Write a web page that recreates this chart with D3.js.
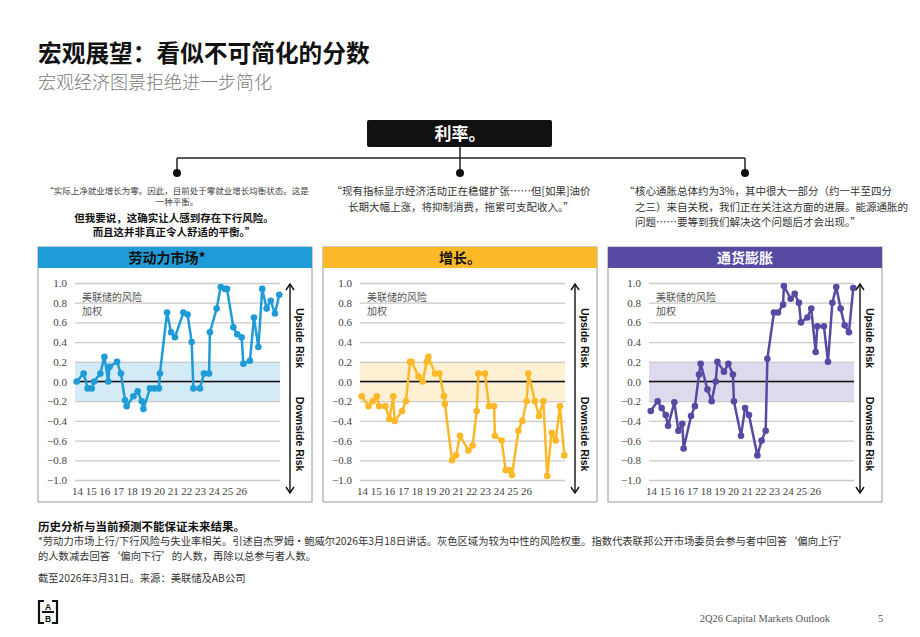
<!DOCTYPE html>
<html lang="zh">
<head>
<meta charset="UTF-8">
<title>宏观展望：看似不可简化的分数</title>
<script src="https://cdn.jsdelivr.net/npm/d3@7"></script>
<style>
  body { margin: 0; background: #fff; }
  svg text { font-family: "Noto Sans CJK SC", "Noto Sans", sans-serif; }
</style>
</head>
<body>
<script>
// 时间位置（自2014年起的年数，按图读出）
var periods = [0.00, 0.41, 0.65, 0.89, 1.03, 1.40, 1.64, 1.87, 1.95, 2.39, 2.62, 2.86, 2.96, 3.36, 3.61, 3.85,
    3.95, 4.34, 4.60, 4.87, 4.93, 5.35, 5.59, 5.82, 6.32, 6.57, 6.81, 6.91, 7.30, 7.54, 7.84, 7.89,
    8.29, 8.53, 8.78, 8.90, 9.28, 9.51, 9.77, 9.87, 10.26, 10.50, 10.76, 10.99, 11.25, 11.49, 11.74, 12.00];

// 劳动力市场
var laborRisk = [0.00, 0.08, -0.07, -0.07, 0.00, 0.08, 0.25, 0.00, 0.15, 0.20, 0.08, -0.19, -0.25, -0.15, -0.10, -0.20,
    -0.28, -0.07, -0.07, -0.07, 0.08, 0.70, 0.50, 0.45, 0.70, 0.68, 0.40, -0.07, -0.07, 0.08, 0.08, 0.50,
    0.74, 0.96, 0.94, 0.94, 0.55, 0.48, 0.45, 0.18, 0.21, 0.65, 0.35, 0.94, 0.74, 0.82, 0.69, 0.88];
// 增长
var growthRisk = [-0.15, -0.25, -0.20, -0.15, -0.25, -0.25, -0.38, -0.15, -0.40, -0.30, -0.20, 0.20, 0.20, 0.05, 0.00, 0.20,
    0.25, 0.08, 0.08, -0.15, -0.23, -0.80, -0.75, -0.55, -0.70, -0.65, -0.30, 0.08, 0.08, -0.25, -0.25, -0.55,
    -0.60, -0.90, -0.90, -0.95, -0.50, -0.40, -0.20, 0.08, -0.20, -0.35, -0.20, -0.96, -0.52, -0.60, -0.25, -0.75];
// 通货膨胀
var inflationRisk = [-0.30, -0.20, -0.27, -0.34, -0.45, -0.21, -0.50, -0.43, -0.68, -0.35, -0.25, 0.07, 0.18, -0.08, -0.20, 0.00,
    0.20, 0.10, 0.18, 0.07, -0.20, -0.55, -0.27, -0.34, -0.75, -0.60, -0.50, 0.23, 0.70, 0.70, 0.78, 0.97,
    0.84, 0.89, 0.80, 0.60, 0.65, 0.74, 0.30, 0.56, 0.56, 0.20, 0.80, 0.96, 0.74, 0.57, 0.50, 0.95];

var yearLabels = ['14', '15', '16', '17', '18', '19', '20', '21', '22', '23', '24', '25', '26'];
var yTicks = [1.0, 0.8, 0.6, 0.4, 0.2, 0.0, -0.2, -0.4, -0.6, -0.8, -1.0];
var panelTitles = ['劳动力市场*', '增长。', '通货膨胀'];

var quoteLeftSmall = ['“实际上净就业增长为零。因此，目前处于零就业增长均衡状态。这是', '一种平衡。'];
var quoteLeftBold = ['但我要说，这确实让人感到存在下行风险。', '而且这并非真正令人舒适的平衡。”'];
var quoteMid = ['“现有指标显示经济活动正在稳健扩张……但[如果]油价', '长期大幅上涨，将抑制消费，拖累可支配收入。”'];
var quoteRight = ['核心通胀总体约为3%，其中很大一部分（约一半至四分', '之三）来自关税，我们正在关注这方面的进展。能源通胀的', '问题……要等到我们解决这个问题后才会出现。”'];

var width = 920, height = 637;
var svg = d3.select('body').append('svg')
    .attr('width', width)
    .attr('height', height);

// 标题
svg.append('text').attr('x', 38).attr('y', 62)
    .attr('font-size', 23.7).attr('font-weight', 700).attr('fill', '#111')
    .text('宏观展望：看似不可简化的分数');
svg.append('text').attr('x', 38).attr('y', 89)
    .attr('font-size', 18).attr('font-weight', 300).attr('fill', '#7a7a7a')
    .text('宏观经济图景拒绝进一步简化');

// 利率框 + 连线
svg.append('rect').attr('x', 367).attr('y', 120).attr('width', 185).attr('height', 27)
    .attr('rx', 2).attr('fill', '#111');
svg.append('text').attr('x', 460).attr('y', 140).attr('text-anchor', 'middle')
    .attr('font-size', 17).attr('font-weight', 700).attr('fill', '#fff').text('利率。');

var lineColor = '#222';
svg.append('line').attr('x1', 460).attr('x2', 460).attr('y1', 147).attr('y2', 158)
    .attr('stroke', lineColor).attr('stroke-width', 1.5);
svg.append('line').attr('x1', 177).attr('x2', 745).attr('y1', 158).attr('y2', 158)
    .attr('stroke', lineColor).attr('stroke-width', 1.5);
[177, 460, 745].forEach(function(cx) {
    svg.append('line').attr('x1', cx).attr('x2', cx).attr('y1', 158).attr('y2', 172)
        .attr('stroke', lineColor).attr('stroke-width', 1.5);
    svg.append('circle').attr('cx', cx).attr('cy', 173).attr('r', 4).attr('fill', '#111');
});

// 引述
quoteLeftSmall.forEach(function(t, i) {
    svg.append('text').attr('x', 177).attr('y', 194 + i * 11).attr('text-anchor', 'middle')
        .attr('font-size', 8.5).attr('fill', '#444').text(t);
});
quoteLeftBold.forEach(function(t, i) {
    svg.append('text').attr('x', 174).attr('y', 222 + i * 14).attr('text-anchor', 'middle')
        .attr('font-size', 10.5).attr('font-weight', 700).attr('fill', '#111').text(t);
});
quoteMid.forEach(function(t, i) {
    svg.append('text').attr('x', 461).attr('y', 195 + i * 15.5).attr('text-anchor', 'middle')
        .attr('font-size', 10.5).attr('fill', '#333').text(t);
});
svg.append('text').attr('x', 624).attr('y', 195)
    .attr('font-size', 10.5).attr('fill', '#333').text('“');
quoteRight.forEach(function(t, i) {
    svg.append('text').attr('x', 635).attr('y', 195 + i * 15.5)
        .attr('font-size', 10.5).attr('fill', '#333').text(t);
});

// 三个面板
var panels = [
    {title: panelTitles[0], values: laborRisk, color: '#1f9bd7', band: '#d3eaf7', titleColor: '#111', left: 38, shift: 0, titleDx: -8},
    {title: panelTitles[1], values: growthRisk, color: '#fdb827', band: '#fef0d2', titleColor: '#111', left: 323, shift: 0, titleDx: 0},
    {title: panelTitles[2], values: inflationRisk, color: '#574aa3', band: '#dddaee', titleColor: '#fff', left: 608, shift: 4, titleDx: 0}
];

var y = d3.scaleLinear().domain([-1, 1]).range([480, 283]);

panels.forEach(function(p) {
    var g = svg.append('g');
    var pl = p.left;
    var ox = pl + p.shift;

    g.append('rect').attr('x', pl).attr('y', 247).attr('width', 274).attr('height', 255)
        .attr('fill', '#fff').attr('stroke', '#9a9a9a').attr('stroke-width', 1);
    g.append('rect').attr('x', pl).attr('y', 247).attr('width', 274).attr('height', 21)
        .attr('fill', p.color);
    g.append('text').attr('x', pl + 137 + p.titleDx).attr('y', 263).attr('text-anchor', 'middle')
        .attr('font-size', 14).attr('font-weight', 700).attr('fill', p.titleColor).text(p.title);

    var x = d3.scaleLinear().domain([0, 12]).range([ox + 38.7, ox + 241.3]);
    var gridL = ox + 37, gridR = ox + 242;

    // 中性区域
    g.append('rect').attr('x', gridL).attr('y', y(0.2)).attr('width', gridR - gridL)
        .attr('height', y(-0.2) - y(0.2)).attr('fill', p.band);

    // y 轴 + 网格线
    var yAxis = d3.axisLeft(y).tickValues(yTicks).tickSize(-(gridR - gridL)).tickPadding(8)
        .tickFormat(d3.format('.1f'));
    var ya = g.append('g').attr('transform', 'translate(' + gridL + ',0)').call(yAxis);
    ya.select('.domain').remove();
    ya.selectAll('.tick line').attr('stroke', '#c9c9c9').attr('stroke-width', 1.3);
    ya.selectAll('.tick text').attr('fill', '#444').attr('font-size', 11)
        .style('font-family', '"Liberation Serif", serif');

    // 零线
    g.append('line').attr('x1', gridL).attr('x2', gridR).attr('y1', y(0)).attr('y2', y(0))
        .attr('stroke', '#111').attr('stroke-width', 1.6);

    // x 轴标签
    var xl = d3.scalePoint().domain(yearLabels).range([ox + 39, ox + 203]);
    var xa = g.append('g').attr('transform', 'translate(0,485)')
        .call(d3.axisBottom(xl).tickSize(0).tickPadding(2));
    xa.select('.domain').remove();
    xa.selectAll('.tick text').attr('fill', '#444').attr('font-size', 11)
        .style('font-family', '"Liberation Serif", serif');

    // 注释
    g.append('text').attr('x', ox + 44).attr('y', 301).attr('font-size', 10).attr('fill', '#555').text('美联储的风险');
    g.append('text').attr('x', ox + 44).attr('y', 314.5).attr('font-size', 10).attr('fill', '#555').text('加权');

    // 数据线
    var pts = periods.map(function(t, i) { return [t, p.values[i]]; });
    var line = d3.line().x(function(d) { return x(d[0]); }).y(function(d) { return y(d[1]); });
    g.append('path').datum(pts).attr('d', line).attr('fill', 'none')
        .attr('stroke', p.color).attr('stroke-width', 2.5).attr('stroke-linejoin', 'round');
    g.selectAll('circle.pt').data(pts).enter().append('circle').attr('class', 'pt')
        .attr('cx', function(d) { return x(d[0]); })
        .attr('cy', function(d) { return y(d[1]); })
        .attr('r', 3.3).attr('fill', p.color);

    // 双向箭头
    var ax = pl + 252;
    g.append('line').attr('x1', ax).attr('x2', ax).attr('y1', 284).attr('y2', 493)
        .attr('stroke', '#111').attr('stroke-width', 1.4);
    g.append('path').attr('d', 'M' + (ax - 4) + ',290 L' + ax + ',284 L' + (ax + 4) + ',290')
        .attr('fill', 'none').attr('stroke', '#111').attr('stroke-width', 1.4);
    g.append('path').attr('d', 'M' + (ax - 4) + ',487 L' + ax + ',493 L' + (ax + 4) + ',487')
        .attr('fill', 'none').attr('stroke', '#111').attr('stroke-width', 1.4);

    [['Upside Risk', 338], ['Downside Risk', 434]].forEach(function(r) {
        g.append('text').attr('transform', 'translate(' + (pl + 258) + ',' + r[1] + ') rotate(90)')
            .attr('text-anchor', 'middle').attr('font-size', 10.5).attr('font-weight', 700)
            .attr('fill', '#111').style('font-family', '"Liberation Sans", Arial, sans-serif')
            .text(r[0]);
    });
});

// 脚注
svg.append('text').attr('x', 38).attr('y', 531).attr('font-size', 11.5).attr('font-weight', 700)
    .attr('fill', '#111').text('历史分析与当前预测不能保证未来结果。');
svg.append('text').attr('x', 38).attr('y', 545).attr('font-size', 10.3).attr('fill', '#333')
    .text('*劳动力市场上行/下行风险与失业率相关。引述自杰罗姆·鲍威尔2026年3月18日讲话。灰色区域为较为中性的风险权重。指数代表联邦公开市场委员会参与者中回答‘偏向上行’');
svg.append('text').attr('x', 38).attr('y', 560).attr('font-size', 10.3).attr('fill', '#333')
    .text('的人数减去回答‘偏向下行’的人数，再除以总参与者人数。');
svg.append('text').attr('x', 38).attr('y', 582).attr('font-size', 10.3).attr('fill', '#333')
    .text('截至2026年3月31日。来源：美联储及AB公司');

// AB 标志
var logo = svg.append('g').attr('transform', 'translate(39,601)');
logo.append('path').attr('d', 'M5,0 L0,0 L0,22 L5,22 M13,0 L18,0 L18,22 L13,22 M3,11 L15,11')
    .attr('fill', 'none').attr('stroke', '#111').attr('stroke-width', 2.2);
logo.append('text').attr('x', 9).attr('y', 8.5).attr('text-anchor', 'middle').attr('font-size', 8.5)
    .attr('font-weight', 700).attr('fill', '#111').style('font-family', '"Liberation Sans", Arial, sans-serif').text('A');
logo.append('text').attr('x', 9).attr('y', 21).attr('text-anchor', 'middle').attr('font-size', 8.5)
    .attr('font-weight', 700).attr('fill', '#111').style('font-family', '"Liberation Sans", Arial, sans-serif').text('B');

svg.append('text').attr('x', 830).attr('y', 622).attr('text-anchor', 'end').attr('font-size', 10.5)
    .attr('fill', '#555').style('font-family', '"Liberation Serif", serif').text('2Q26 Capital Markets Outlook');
svg.append('text').attr('x', 878).attr('y', 622).attr('font-size', 10.5)
    .attr('fill', '#555').style('font-family', '"Liberation Serif", serif').text('5');
</script>
</body>
</html>
